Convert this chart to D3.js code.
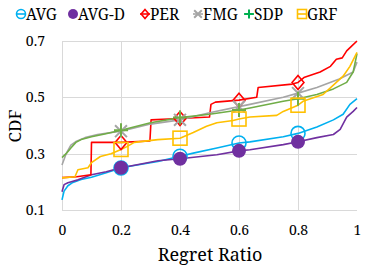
<!doctype html>
<html>
<head>
<meta charset="utf-8">
<script src="https://cdn.jsdelivr.net/npm/d3@7"></script>
<style>
  body { margin: 0; background: #fff; }
  svg text { font-family: 'Noto Serif', 'Liberation Serif', serif !important; fill: #000; }
</style>
</head>
<body>
<svg id="chart" width="365" height="266"></svg>
<script>
// series, [regret ratio, CDF]
var avg = [[0,0.136],[0.007,0.167],[0.02,0.186],[0.037,0.198],[0.065,0.208],[0.1,0.216],[0.15,0.232],[0.2,0.249],
  [0.235,0.256],[0.325,0.272],[0.4,0.291],[0.445,0.302],[0.525,0.32],[0.6,0.338],[0.637,0.342],[0.75,0.36],
  [0.8,0.372],[0.864,0.395],[0.92,0.42],[0.953,0.44],[0.976,0.475],[1,0.495]];
var avgD = [[0,0.165],[0.007,0.19],[0.02,0.197],[0.054,0.207],[0.1,0.225],[0.15,0.236],[0.2,0.25],[0.25,0.26],
  [0.325,0.275],[0.4,0.282],[0.525,0.296],[0.6,0.31],[0.637,0.314],[0.75,0.332],[0.8,0.342],[0.864,0.357],
  [0.92,0.368],[0.943,0.386],[0.965,0.43],[0.987,0.45],[1,0.464]];
var per = [[0,0.215],[0.05,0.218],[0.098,0.225],[0.1,0.34],[0.2,0.34],[0.298,0.345],[0.302,0.42],[0.4,0.425],
  [0.5,0.43],[0.505,0.475],[0.52,0.483],[0.6,0.49],[0.66,0.5],[0.665,0.535],[0.78,0.547],[0.8,0.553],
  [0.82,0.57],[0.875,0.59],[0.91,0.61],[0.93,0.635],[0.95,0.64],[0.965,0.665],[0.98,0.68],[1,0.7]];
var fmg = [[0,0.26],[0.014,0.3],[0.03,0.33],[0.047,0.343],[0.078,0.357],[0.12,0.368],[0.2,0.38],[0.3,0.405],
  [0.4,0.42],[0.5,0.445],[0.6,0.467],[0.637,0.475],[0.75,0.5],[0.8,0.515],[0.864,0.535],[0.94,0.565],
  [0.987,0.59],[1,0.625]];
var sdp = [[0,0.286],[0.014,0.3],[0.03,0.32],[0.047,0.34],[0.065,0.35],[0.1,0.36],[0.145,0.37],[0.2,0.383],
  [0.3,0.41],[0.4,0.428],[0.5,0.44],[0.6,0.455],[0.637,0.462],[0.75,0.486],[0.8,0.495],[0.864,0.51],
  [0.92,0.53],[0.965,0.553],[0.987,0.59],[1,0.655]];
var grf = [[0,0.214],[0.044,0.218],[0.054,0.243],[0.088,0.25],[0.1,0.268],[0.13,0.29],[0.166,0.3],[0.2,0.315],
  [0.22,0.325],[0.245,0.34],[0.325,0.35],[0.4,0.355],[0.445,0.375],[0.49,0.397],[0.525,0.41],[0.58,0.418],
  [0.6,0.423],[0.637,0.43],[0.728,0.436],[0.75,0.45],[0.8,0.472],[0.817,0.486],[0.885,0.51],[0.93,0.553],
  [0.953,0.575],[0.976,0.61],[1,0.66]];

var names = ["AVG", "AVG-D", "PER", "FMG", "SDP", "GRF"];
var markerAt = [0.2, 0.4, 0.6, 0.8];
var xTicks = [0, 0.2, 0.4, 0.6, 0.8, 1];
var yTicks = [0.1, 0.3, 0.5, 0.7];

var series = [
  { name: "AVG",   data: avg,  color: "#00b0f0", shape: "ring" },
  { name: "AVG-D", data: avgD, color: "#7030a0", shape: "dot" },
  { name: "PER",   data: per,  color: "#ff0000", shape: "diamond" },
  { name: "FMG",   data: fmg,  color: "#a5a5a5", shape: "cross" },
  { name: "SDP",   data: sdp,  color: "#70ad47", shape: "plus" },
  { name: "GRF",   data: grf,  color: "#ffc000", shape: "square" }
];

var svg = d3.select("#chart");
var x = d3.scaleLinear().domain([0, 1]).range([62, 357]);
var y = d3.scaleLinear().domain([0.1, 0.7]).range([210, 41]);

// grid
var grid = svg.append("g").attr("stroke", "#d9d9d9").attr("stroke-width", 1);
grid.selectAll(".h").data(yTicks).enter().append("line")
  .attr("x1", x(0)).attr("x2", x(1))
  .attr("y1", function(d) { return Math.round(y(d)) + 0.5; })
  .attr("y2", function(d) { return Math.round(y(d)) + 0.5; });
grid.selectAll(".v").data(xTicks.slice(0, 5)).enter().append("line")
  .attr("y1", y(0.1)).attr("y2", y(0.7))
  .attr("x1", function(d) { return Math.round(x(d)) + 0.5; })
  .attr("x2", function(d) { return Math.round(x(d)) + 0.5; });

// axes (labels only, lines come from the grid)
var xAxis = d3.axisBottom(x).tickValues(xTicks).tickSize(0).tickPadding(15)
  .tickFormat(function(d) { return d === 0 ? "0" : d === 1 ? "1" : d3.format(".1f")(d); });
svg.append("g").attr("transform", "translate(0," + y(0.1) + ")").call(xAxis)
  .attr("font-family", null).attr("font-size", 14)
  .call(function(g) { g.select(".domain").remove(); });

var yAxis = d3.axisLeft(y).tickValues(yTicks).tickSize(0).tickPadding(17).tickFormat(d3.format(".1f"));
svg.append("g").attr("transform", "translate(" + x(0) + ",0)").call(yAxis)
  .attr("font-family", null).attr("font-size", 14)
  .call(function(g) { g.select(".domain").remove(); });

svg.append("text").attr("x", 210).attr("y", 261).attr("text-anchor", "middle")
  .style("font-size", "18px").text("Regret Ratio");
svg.append("text").attr("transform", "translate(21,126) rotate(-90)").attr("text-anchor", "middle")
  .style("font-size", "17px").text("CDF");

// lines
var line = d3.line().x(function(d) { return x(d[0]); }).y(function(d) { return y(d[1]); });
svg.append("g").selectAll("path").data(series).enter().append("path")
  .attr("d", function(s) { return line(s.data); })
  .attr("fill", "none").attr("stroke", function(s) { return s.color; })
  .attr("stroke-width", 1.6).attr("stroke-linejoin", "round");

function valueAt(data, v) {
  for (var i = 1; i < data.length; i++) {
    if (data[i][0] >= v) {
      var a = data[i - 1], b = data[i];
      return a[1] + (b[1] - a[1]) * (v - a[0]) / (b[0] - a[0]);
    }
  }
  return data[data.length - 1][1];
}

function drawMarker(g, shape, color, r) {
  if (shape === "ring") {
    g.append("circle").attr("r", r).attr("fill", "none").attr("stroke", color).attr("stroke-width", 1.6);
  } else if (shape === "dot") {
    g.append("circle").attr("r", r).attr("fill", color);
  } else if (shape === "diamond") {
    g.append("path").attr("d", "M0," + (-r) + "L" + (r * 0.85) + ",0L0," + r + "L" + (-r * 0.85) + ",0Z")
      .attr("fill", "none").attr("stroke", color).attr("stroke-width", 1.6);
  } else if (shape === "cross") {
    var k = r * 0.85;
    g.append("path").attr("d", "M" + (-k) + "," + (-k) + "L" + k + "," + k + "M" + (-k) + "," + k + "L" + k + "," + (-k))
      .attr("stroke", color).attr("stroke-width", 2);
  } else if (shape === "plus") {
    g.append("path").attr("d", "M" + (-r) + ",0H" + r + "M0," + (-r) + "V" + r)
      .attr("stroke", color).attr("stroke-width", 2);
  } else if (shape === "square") {
    g.append("rect").attr("x", -r).attr("y", -r).attr("width", 2 * r).attr("height", 2 * r)
      .attr("fill", "none").attr("stroke", color).attr("stroke-width", 1.6);
  }
}

series.forEach(function(s) {
  markerAt.forEach(function(v) {
    var g = svg.append("g").attr("transform", "translate(" + x(v) + "," + y(valueAt(s.data, v)) + ")");
    drawMarker(g, s.shape, s.color, 7);
  });
});

// legend
var legendMarkX = [21, 73, 145, 198, 249, 302];
var legendColor = ["#00b0f0", "#7030a0", "#ff0000", "#a5a5a5", "#00b050", "#ffc000"];
series.forEach(function(s, i) {
  var g = svg.append("g").attr("transform", "translate(" + legendMarkX[i] + ",14)");
  if (s.shape !== "dot") {
    g.append("line").attr("x1", -5).attr("x2", 5).attr("stroke", legendColor[i]).attr("stroke-width", 1.6);
  }
  drawMarker(g, s.shape, legendColor[i], s.shape === "dot" ? 5 : 4.5);
  svg.append("text").attr("x", legendMarkX[i] + 5).attr("y", 20)
    .style("font-size", "15.5px").text(names[i]);
});
</script>
</body>
</html>
